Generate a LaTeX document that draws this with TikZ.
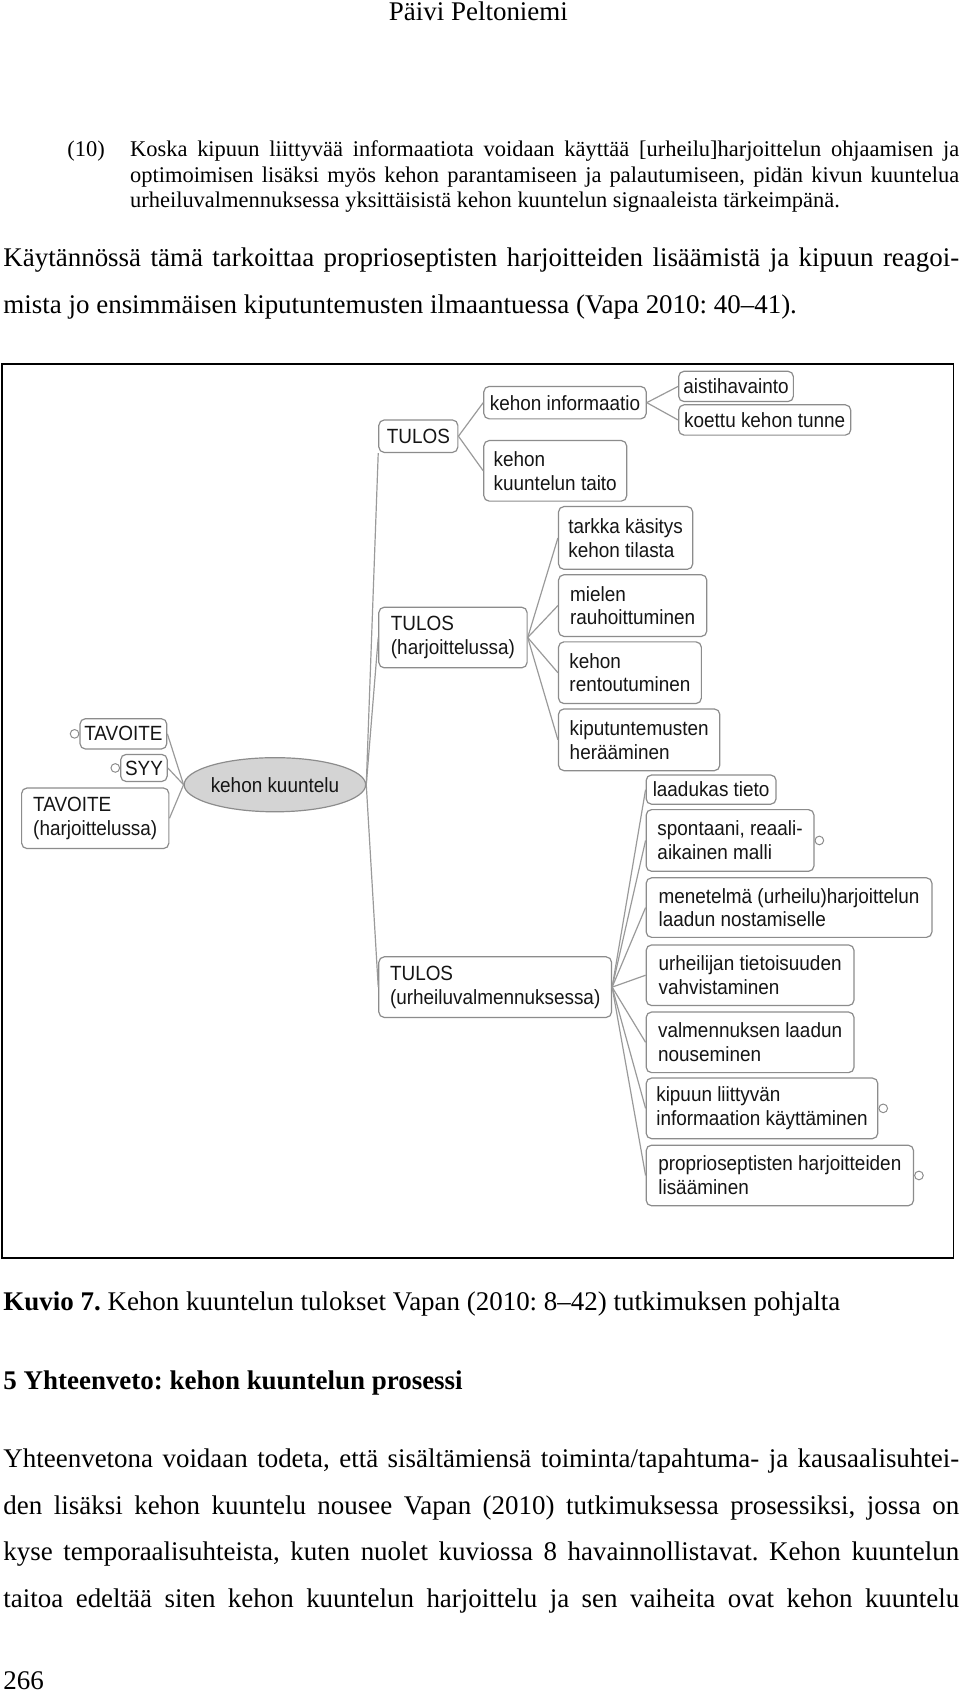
\documentclass[tikz,border=0pt]{standalone}
\usepackage{fontspec}
\setmainfont{Liberation Serif}
\newfontfamily\mapfont[FakeStretch=0.92]{Liberation Sans}
\usetikzlibrary{shapes.geometric}
\definecolor{boxc}{HTML}{8C8C8C}
\definecolor{linec}{HTML}{9A9A9A}
\definecolor{ellc}{HTML}{D4D4D4}
\definecolor{txtc}{HTML}{151515}
\frenchspacing
\begin{document}
\begin{tikzpicture}[x=1pt,y=-1pt,
  txt/.style={anchor=base west, inner sep=0pt, font=\fontsize{24.9}{43}\selectfont},
  qtxt/.style={anchor=base west, inner sep=0pt, font=\fontsize{20.75}{23.5}\selectfont},
  mbox/.style={draw=boxc, line width=1.1pt, rounded corners=5pt, fill=white, inner xsep=4pt, inner ysep=2pt, align=left, text=txtc, font=\mapfont\fontsize{19}{22}\selectfont},
  conn/.style={draw=linec, line width=1.1pt},
  knob/.style={circle, draw=boxc, line width=0.9pt, fill=white, minimum size=8pt, inner sep=0pt}
]
\useasboundingbox (0,0) rectangle (887,1566);
\fill[white] (0,0) rectangle (887,1566);

% ---------- page text ----------
\node[txt, anchor=base] (hdr) at (442,19) {Päivi Peltoniemi};

\node[qtxt] (q10) at (62,145) {(10)};
\node[qtxt] (q1) at (120,145) {\makebox[766pt][s]{Koska kipuun liittyvää informaatiota voidaan käyttää [urheilu]harjoittelun ohjaamisen ja}};
\node[qtxt] (q2) at (120,168.5) {\makebox[766pt][s]{optimoimisen lisäksi myös kehon parantamiseen ja palautumiseen, pidän kivun kuuntelua}};
\node[qtxt] (q3) at (120,192) {urheiluvalmennuksessa yksittäisistä kehon kuuntelun signaaleista tärkeimpänä.};

\node[txt] (b1) at (3,246) {\makebox[883pt][s]{Käytännössä tämä tarkoittaa proprioseptisten harjoitteiden lisäämistä ja kipuun reagoi-}};
\node[txt] (b2) at (3,290) {mista jo ensimmäisen kiputuntemusten ilmaantuessa (Vapa 2010: 40--41).};

\draw[line width=1.6pt] (2,336) rectangle (881,1162);

\node[txt] (cap) at (3,1211) {\textbf{Kuvio 7.} Kehon kuuntelun tulokset Vapan (2010: 8--42) tutkimuksen pohjalta};
\node[txt] (hd) at (3,1284) {\textbf{5 Yhteenveto: kehon kuuntelun prosessi}};
\node[txt] (p1) at (3,1356) {\makebox[883pt][s]{Yhteenvetona voidaan todeta, että sisältämiensä toiminta/tapahtuma- ja kausaalisuhtei-}};
\node[txt] (p2) at (3,1399) {\makebox[883pt][s]{den lisäksi kehon kuuntelu nousee Vapan (2010) tutkimuksessa prosessiksi, jossa on}};
\node[txt] (p3) at (3,1442) {\makebox[883pt][s]{kyse temporaalisuhteista, kuten nuolet kuviossa 8 havainnollistavat. Kehon kuuntelun}};
\node[txt] (p4) at (3,1485) {\makebox[883pt][s]{taitoa edeltää siten kehon kuuntelun harjoittelu ja sen vaiheita ovat kehon kuuntelu}};
\node[txt] (pg) at (3,1561) {266};

% ---------- mind map ----------
\node[ellipse, draw=boxc, line width=1.1pt, fill=ellc, minimum width=136pt, minimum height=50pt, inner sep=0pt, text=txtc, font=\mapfont\fontsize{19}{22}\selectfont] (root) at (254,725) {kehon kuuntelu};

\node[mbox, minimum width=78pt, minimum height=28pt] (tav1) at (114,678) {TAVOITE};
\node[mbox, minimum width=40pt, minimum height=25pt] (syy) at (133,709.5) {SYY};
\node[mbox, minimum width=136pt, minimum height=56pt] (tav2) at (88,756) {TAVOITE\\(harjoittelussa)};

\node[mbox, minimum width=73pt, minimum height=30pt] (tulos1) at (386.5,403) {TULOS};
\node[mbox, minimum width=150pt, minimum height=30pt] (info) at (522,372) {kehon informaatio};
\node[mbox, minimum width=106pt, minimum height=28pt] (aisti) at (680,357) {aistihavainto};
\node[mbox, minimum width=159pt, minimum height=28pt] (koettu) at (706.5,388) {koettu kehon tunne};
\node[mbox, minimum width=132pt, minimum height=56pt] (taito) at (513,435) {kehon\\kuuntelun taito};

\node[mbox, minimum width=137pt, minimum height=56pt] (tulos2) at (418.5,589) {TULOS\\(harjoittelussa)};
\node[mbox, minimum width=124pt, minimum height=58pt] (tarkka) at (578,497) {tarkka käsitys\\kehon tilasta};
\node[mbox, minimum width=137pt, minimum height=57pt] (mielen) at (584.5,559.5) {mielen\\rauhoittuminen};
\node[mbox, minimum width=132pt, minimum height=57pt] (rento) at (582,621.5) {kehon\\rentoutuminen};
\node[mbox, minimum width=149pt, minimum height=57pt] (kipu) at (590.5,683.5) {kiputuntemusten\\herääminen};

\node[mbox, minimum width=215pt, minimum height=56pt] (tulos3) at (457.5,912) {TULOS\\(urheiluvalmennuksessa)};
\node[mbox, minimum width=120pt, minimum height=27pt] (laad) at (657,729.5) {laadukas tieto};
\node[mbox, minimum width=155pt, minimum height=57pt] (spont) at (674.5,776.5) {spontaani, reaali-\\aikainen malli};
\node[mbox, minimum width=264pt, minimum height=55pt] (menet) at (729,838.5) {menetelmä (urheilu)harjoittelun\\laadun nostamiselle};
\node[mbox, minimum width=192pt, minimum height=56pt] (urh) at (693,901) {urheilijan tietoisuuden\\vahvistaminen};
\node[mbox, minimum width=192pt, minimum height=56pt] (valm) at (693,963) {valmennuksen laadun\\nouseminen};
\node[mbox, minimum width=214pt, minimum height=56pt] (kipuun) at (704,1024) {kipuun liittyvän\\informaation käyttäminen};
\node[mbox, minimum width=247pt, minimum height=56pt] (prop) at (720.5,1086) {proprioseptisten harjoitteiden\\lisääminen};

% knobs
\node[knob, anchor=east] (k1) at (tav1.west) {};
\node[knob, anchor=east] (k2) at (syy.west) {};
\node[knob, anchor=west] (k3) at (spont.east) {};
\node[knob, anchor=west] (k4) at (kipuun.east) {};
\node[knob, anchor=west] (k5) at (prop.east) {};

% connectors
\draw[conn] (root.west) -- (tav1.east);
\draw[conn] (root.west) -- (syy.east);
\draw[conn] (root.west) -- (tav2.east);
\draw[conn] (root.east) -- (tulos1.south west);
\draw[conn] (root.east) -- (tulos2.west);
\draw[conn] (root.east) -- (tulos3.west);
\draw[conn] (tulos1.east) -- (info.west);
\draw[conn] (tulos1.east) -- (taito.west);
\draw[conn] (info.east) -- (aisti.west);
\draw[conn] (info.east) -- (koettu.west);
\foreach \c in {tarkka,mielen,rento,kipu} \draw[conn] (tulos2.east) -- (\c.west);
\foreach \c in {laad,spont,menet,urh,valm,kipuun,prop} \draw[conn] (tulos3.east) -- (\c.west);
\end{tikzpicture}
\end{document}
